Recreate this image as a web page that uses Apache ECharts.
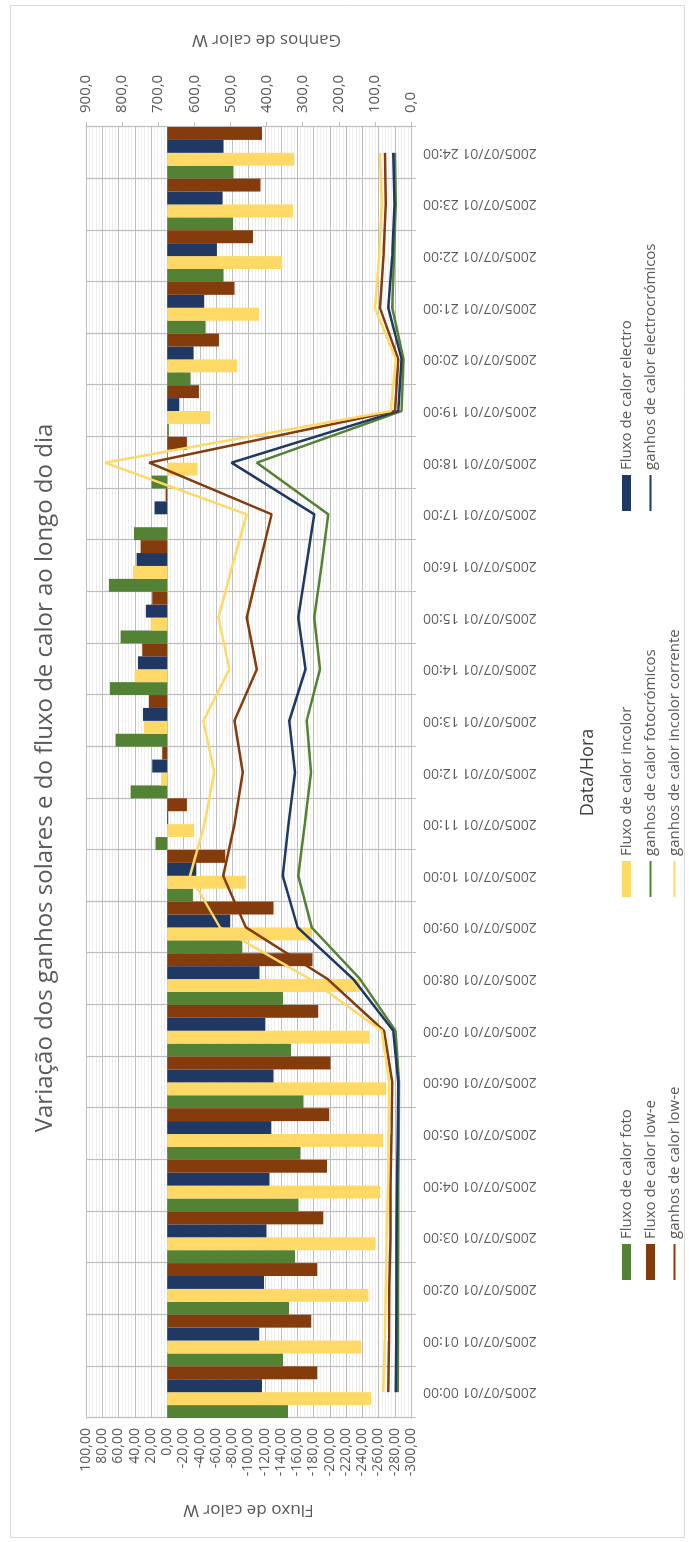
<!DOCTYPE html>
<html>
<head>
<meta charset="utf-8">
<script src="https://cdn.jsdelivr.net/npm/echarts@6/dist/echarts.min.js"></script>
<style>
  html, body { margin: 0; padding: 0; background: #ffffff; width: 689px; height: 1542px; overflow: hidden; }
  /* the chart is laid out landscape and turned a quarter turn to stand upright on the page */
  #wrap { position: absolute; left: 0; top: 0; width: 1542px; height: 689px;
          transform-origin: 0 0; transform: translate(0, 1542px) rotate(-90deg); }
  #chart { width: 1542px; height: 689px; }
</style>
</head>
<body>
<div id="wrap"><div id="chart"></div></div>
<script>
// hourly samples for 1 July 2005
const horas = [
  '2005/07/01 00:00', '2005/07/01 01:00', '2005/07/01 02:00', '2005/07/01 03:00', '2005/07/01 04:00',
  '2005/07/01 05:00', '2005/07/01 06:00', '2005/07/01 07:00', '2005/07/01 08:00', '2005/07/01 09:00',
  '2005/07/01 10:00', '2005/07/01 11:00', '2005/07/01 12:00', '2005/07/01 13:00', '2005/07/01 14:00',
  '2005/07/01 15:00', '2005/07/01 16:00', '2005/07/01 17:00', '2005/07/01 18:00', '2005/07/01 19:00',
  '2005/07/01 20:00', '2005/07/01 21:00', '2005/07/01 22:00', '2005/07/01 23:00', '2005/07/01 24:00'
];

// heat flux through each glazing (W), left axis
const fluxoFoto = [-148.5, -142.4, -149.7, -157.1, -161.6, -164.1, -167.8, -152.2, -142.4, -92.3, -31.6, 14.4, 45.1, 63.6, 70.6, 57.4, 71.8, 41.0, 19.3, -2.0, -28.7, -47.2, -69.3, -80.8, -81.6];
const fluxoIncolor = [-250.7, -238.8, -247.8, -256.4, -262.2, -265.4, -269.5, -249.0, -237.5, -178.0, -97.2, -33.2, 7.4, 28.7, 40.2, 20.5, 42.3, 0.4, -37.3, -52.9, -86.2, -112.8, -141.5, -154.7, -156.3];
const fluxoElectro = [-116.5, -113.2, -119.0, -122.3, -125.9, -128.0, -130.9, -120.2, -113.6, -77.5, -35.7, -1.2, 18.5, 29.9, 36.1, 26.3, 37.7, 15.6, -0.5, -14.8, -32.4, -45.5, -61.1, -68.1, -69.3];
const fluxoLowE = [-184.6, -177.2, -184.6, -192.0, -196.5, -199.4, -201.0, -185.8, -178.9, -130.9, -71.4, -24.2, 6.2, 22.6, 30.8, 18.5, 32.8, 2.0, -24.2, -39.0, -63.6, -82.9, -105.4, -114.9, -116.5];

// solar heat gains through each glazing (W), right axis
const ganhosFoto = [37, 36, 36, 35, 35, 34, 33, 43, 141, 275, 312, 294, 277, 289, 252, 268, 248, 229, 427, 26, 21, 52, 47, 42, 44];
const ganhosElectro = [42, 41, 40, 40, 39, 37, 35, 49, 160, 314, 355, 339, 321, 337, 292, 312, 290, 268, 497, 35, 26, 63, 52, 46, 49];
const ganhosLowE = [63, 61, 60, 57, 57, 54, 52, 75, 231, 457, 520, 489, 466, 489, 427, 455, 421, 386, 725, 44, 35, 86, 76, 70, 72];
const ganhosIncolor = [77, 73, 70, 67, 64, 62, 60, 81, 280, 529, 612, 572, 545, 575, 503, 533, 495, 455, 847, 56, 42, 100, 88, 81, 86];

const FONT = 'Open Sans';
const GREY_TXT = '#595959';
const GRID = '#BDBDBD';
const C_VERDE = '#548235', C_AMARELO = '#FFD966', C_AZUL = '#203864', C_CASTANHO = '#843C0C';

const virgula = (d) => (v) => v.toFixed(d).replace('.', ',');

const barra = (name, data, color) => ({
  name, type: 'bar', data, yAxisIndex: 0,
  barGap: '0%', barCategoryGap: '0%',
  itemStyle: { color },
  emphasis: { disabled: true }
});
const linha = (name, data, color) => ({
  name, type: 'line', data, yAxisIndex: 1,
  symbol: 'none', smooth: false,
  lineStyle: { width: 2.5, color },
  itemStyle: { color },
  emphasis: { disabled: true }
});

// legend entries: filled block for the bars, plain stroke for the lines
const chave = (name) => ({ name, icon: 'rect' });
const traco = (name) => ({ name, itemStyle: { opacity: 0 } });

const legenda = (left, data) => ({
  left, top: 619, orient: 'vertical', padding: 0,
  itemWidth: 36, itemHeight: 9, itemGap: 9,
  selectedMode: false,
  textStyle: { fontFamily: FONT, fontSize: 15, color: GREY_TXT, lineHeight: 14 },
  data
});

const chart = echarts.init(document.getElementById('chart'), null, { renderer: 'canvas' });
chart.setOption({
  animation: false,
  backgroundColor: '#ffffff',
  textStyle: { fontFamily: FONT },
  grid: { left: 124, right: 127, top: 86, bottom: 278, containLabel: false },
  graphic: [
    { type: 'rect', shape: { x: 4.5, y: 10.5, width: 1532, height: 674 },
      style: { fill: 'none', stroke: '#D9D9D9', lineWidth: 1 }, silent: true },
    { type: 'text', x: 764, y: 45,
      style: { text: 'Variação dos ganhos solares e do fluxo de calor ao longo do dia',
               font: '24px "Open Sans"', fill: GREY_TXT, textAlign: 'center', textVerticalAlign: 'middle' },
      silent: true }
  ],
  legend: [
    legenda(261, [
      chave('Fluxo de calor foto'),
      chave('Fluxo de calor low-e'),
      traco('ganhos de calor low-e')
    ]),
    legenda(644, [
      chave('Fluxo de calor incolor'),
      traco('ganhos de calor fotocrómicos'),
      traco('ganhos de calor incolor corrente')
    ]),
    legenda(1030, [
      chave('Fluxo de calor electro'),
      traco('ganhos de calor electrocrómicos')
    ])
  ],
  xAxis: {
    type: 'category', data: horas, boundaryGap: true,
    name: 'Data/Hora', nameLocation: 'middle', nameGap: 168,
    nameTextStyle: { fontFamily: FONT, fontSize: 18, color: '#404040' },
    axisLine: { onZero: false, lineStyle: { color: GRID } },
    axisTick: { show: true, length: 5, lineStyle: { color: GRID } },
    axisLabel: { interval: 0, rotate: 90, margin: 12, fontFamily: FONT, fontSize: 14, color: GREY_TXT },
    splitLine: { show: true, interval: 0, lineStyle: { color: GRID, width: 1.2 } }
  },
  yAxis: [
    {
      type: 'value', position: 'left', min: -300, max: 100, interval: 20,
      name: 'Fluxo de calor W', nameLocation: 'middle', nameGap: 83, nameRotate: 90,
      nameTextStyle: { fontFamily: FONT, fontSize: 17, color: GREY_TXT },
      axisLine: { show: false }, axisTick: { show: false },
      axisLabel: { margin: 10, fontFamily: FONT, fontSize: 14, color: GREY_TXT, formatter: virgula(2) },
      splitLine: { show: true, lineStyle: { color: GRID, width: 1.2 } },
      minorTick: { show: false, splitNumber: 5 },
      minorSplitLine: { show: true, lineStyle: { color: '#EEEEEE', width: 1 } }
    },
    {
      type: 'value', position: 'right', min: 0, max: 900, interval: 100,
      name: 'Ganhos de calor W', nameLocation: 'middle', nameGap: 79, nameRotate: 90,
      nameTextStyle: { fontFamily: FONT, fontSize: 17, color: GREY_TXT, padding: [0, 36, 0, 0] },
      axisLine: { show: true, lineStyle: { color: GRID } },
      axisTick: { show: true, length: 5, lineStyle: { color: GRID } },
      axisLabel: { margin: 14, fontFamily: FONT, fontSize: 15, color: GREY_TXT, formatter: virgula(1) },
      splitLine: { show: false }
    }
  ],
  series: [
    barra('Fluxo de calor foto', fluxoFoto, C_VERDE),
    barra('Fluxo de calor incolor', fluxoIncolor, C_AMARELO),
    barra('Fluxo de calor electro', fluxoElectro, C_AZUL),
    barra('Fluxo de calor low-e', fluxoLowE, C_CASTANHO),
    linha('ganhos de calor fotocrómicos', ganhosFoto, C_VERDE),
    linha('ganhos de calor electrocrómicos', ganhosElectro, '#1F3864'),
    linha('ganhos de calor low-e', ganhosLowE, C_CASTANHO),
    linha('ganhos de calor incolor corrente', ganhosIncolor, C_AMARELO)
  ]
});
</script>
</body>
</html>
